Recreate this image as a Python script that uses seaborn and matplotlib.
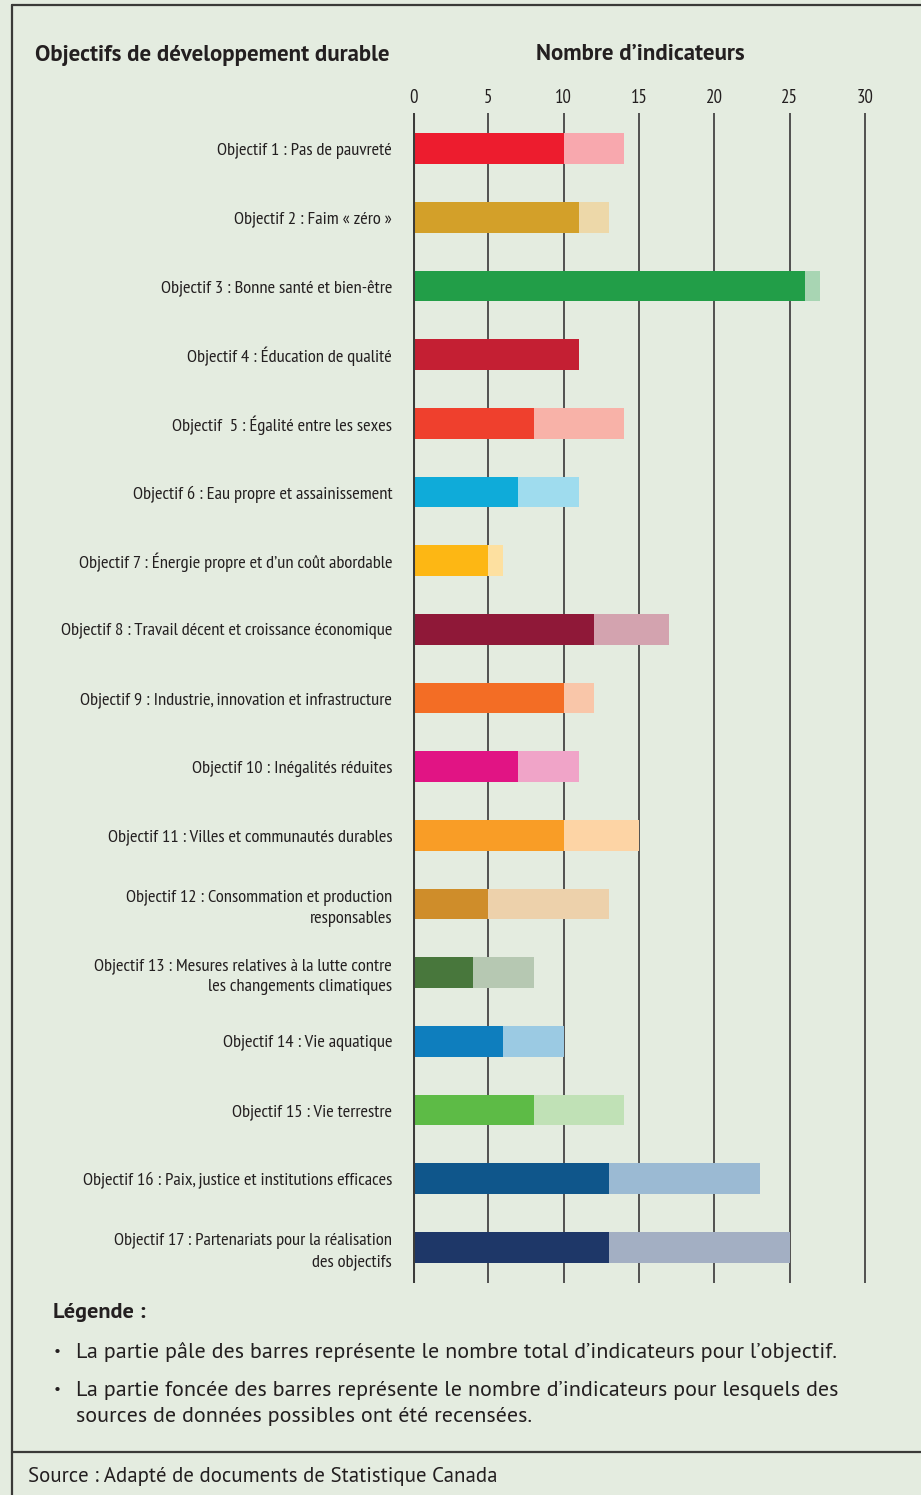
import matplotlib
matplotlib.use("Agg")
import matplotlib.pyplot as plt
import seaborn as sns
import pandas as pd
from matplotlib.lines import Line2D

labels = [
    "Objectif 1 : Pas de pauvreté",
    "Objectif 2 : Faim « zéro »",
    "Objectif 3 : Bonne santé et bien-être",
    "Objectif 4 : Éducation de qualité",
    "Objectif  5 : Égalité entre les sexes",
    "Objectif 6 : Eau propre et assainissement",
    "Objectif 7 : Énergie propre et d’un coût abordable",
    "Objectif 8 : Travail décent et croissance économique",
    "Objectif 9 : Industrie, innovation et infrastructure",
    "Objectif 10 : Inégalités réduites",
    "Objectif 11 : Villes et communautés durables",
    "Objectif 12 : Consommation et production\nresponsables",
    "Objectif 13 : Mesures relatives à la lutte contre\nles changements climatiques",
    "Objectif 14 : Vie aquatique",
    "Objectif 15 : Vie terrestre",
    "Objectif 16 : Paix, justice et institutions efficaces",
    "Objectif 17 : Partenariats pour la réalisation\ndes objectifs",
]
sourced = [10, 11, 26, 11, 8, 7, 5, 12, 10, 7, 10, 5, 4, 6, 8, 13, 13]
total = [14, 13, 27, 11, 14, 11, 6, 17, 12, 11, 15, 13, 8, 10, 14, 23, 25]
dark_colors = ["#ed1c2e", "#d3a029", "#229e48", "#c41f33", "#ef402d", "#0fabd9",
               "#fdb714", "#8f1838", "#f36d25", "#e11484", "#f99d26", "#cf8d2a",
               "#48773c", "#0e7ebe", "#5dbb46", "#0f568b", "#1e3768"]
light_colors = ["#f8a8ae", "#edd8a9", "#a8d5b3", "#e8a0a8", "#f8b2a8", "#9fdcee",
                "#fde0a0", "#d3a3af", "#f9c6a9", "#f0a4c8", "#fdd4a5", "#edd1ab",
                "#b6c8b2", "#9bcae3", "#c0e1b6", "#9bbad3", "#a3afc3"]
xticks = [0, 5, 10, 15, 20, 25, 30]

bg = "#e4ece0"
sns.set_theme(style="white")
narrow = ["PT Sans Narrow", "DejaVu Sans"]
plt.rcParams["font.family"] = ["PT Sans", "DejaVu Sans"]

df = pd.DataFrame({"objectif": labels, "sourced": sourced, "total": total})

W, H = 921, 1495
fig = plt.figure(figsize=(W / 100, H / 100), dpi=100, facecolor=bg)
x0_px, unit_px = 413, 15.07
xmax = 31
ax = fig.add_axes([x0_px / W, 1 - 1283 / H, xmax * unit_px / W, (1283 - 113) / H])
ax.set_facecolor(bg)

sns.barplot(data=df, x="total", y="objectif", hue="objectif", palette=light_colors,
            legend=False, width=0.45, ax=ax, saturation=1, orient="h", zorder=3,
            linewidth=0)
sns.barplot(data=df, x="sourced", y="objectif", hue="objectif", palette=dark_colors,
            legend=False, width=0.45, ax=ax, saturation=1, orient="h", zorder=4,
            linewidth=0)

ax.set_xlim(0, xmax)
ax.set_ylim(16.52, -0.52)
for xv in xticks:
    ax.axvline(xv, color="#3c3c3a" if xv == 0 else "#505050",
               lw=2.2 if xv == 0 else 1.4, zorder=2 if xv else 5)
for s in ax.spines.values():
    s.set_visible(False)
ax.set_xlabel("")
ax.set_ylabel("")
ax.xaxis.tick_top()
ax.set_xticks(xticks)
ax.set_xticklabels([str(v) for v in xticks], family=narrow, fontsize=13.5, color="#231f20")
ax.tick_params(axis="x", length=0, pad=4)
ax.tick_params(axis="y", length=0, pad=15)
for t in ax.get_yticklabels():
    t.set_family(narrow)
    t.set_fontsize(13.3)
    t.set_color("#231f20")
    t.set_ha("right")
    t.set_linespacing(1.4)

def fx(px):
    return px / W

def fy(py):
    return 1 - py / H

txt = "#231f20"
fig.text(fx(35), fy(55), "Objectifs de développement durable", fontsize=16.5,
         fontweight="bold", va="center", ha="left", color=txt)
fig.text(fx(640), fy(55), "Nombre d’indicateurs", fontsize=16.5,
         fontweight="bold", va="center", ha="center", color=txt)
fig.text(fx(53), fy(1313), "Légende :", fontsize=16, fontweight="bold",
         va="center", ha="left", color=txt)
fig.text(fx(54), fy(1352), "•", fontsize=11, va="center", ha="left", color=txt)
fig.text(fx(76), fy(1352),
         "La partie pâle des barres représente le nombre total d’indicateurs pour l’objectif.",
         fontsize=15.8, va="center", ha="left", color=txt)
fig.text(fx(54), fy(1390), "•", fontsize=11, va="center", ha="left", color=txt)
fig.text(fx(76), fy(1390),
         "La partie foncée des barres représente le nombre d’indicateurs pour lesquels des",
         fontsize=15.8, va="center", ha="left", color=txt)
fig.text(fx(76), fy(1416), "sources de données possibles ont été recensées.",
         fontsize=15.8, va="center", ha="left", color=txt)
fig.text(fx(28), fy(1476), "Source : Adapté de documents de Statistique Canada",
         fontsize=15, va="center", ha="left", color=txt)

lc = "#3a3a38"
fig.add_artist(Line2D([fx(12), 1.0], [fy(5), fy(5)], color=lc, lw=1.6))
fig.add_artist(Line2D([fx(12), fx(12)], [fy(5), 0.0], color=lc, lw=1.6))
fig.add_artist(Line2D([fx(12), 1.0], [fy(1452), fy(1452)], color=lc, lw=1.6))

fig.savefig("out.png", dpi=100, facecolor=bg)
